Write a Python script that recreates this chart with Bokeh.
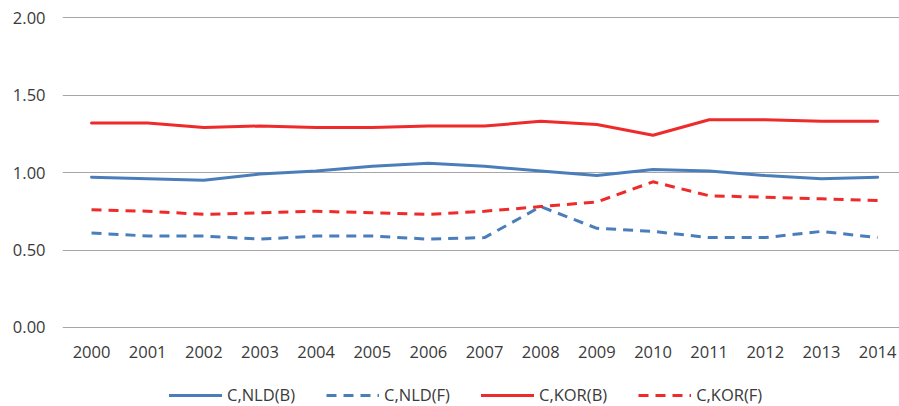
from bokeh.plotting import figure
from bokeh.models import Range1d, FixedTicker, Legend, LegendItem, ColumnDataSource
from bokeh.embed import file_html
from bokeh.resources import INLINE

years = [2000, 2001, 2002, 2003, 2004, 2005, 2006, 2007, 2008, 2009, 2010, 2011, 2012, 2013, 2014]
nld_b = [0.97, 0.96, 0.95, 0.99, 1.01, 1.04, 1.06, 1.04, 1.01, 0.98, 1.02, 1.01, 0.98, 0.96, 0.97]
nld_f = [0.61, 0.59, 0.59, 0.57, 0.59, 0.59, 0.57, 0.58, 0.78, 0.64, 0.62, 0.58, 0.58, 0.62, 0.58]
kor_b = [1.32, 1.32, 1.29, 1.30, 1.29, 1.29, 1.30, 1.30, 1.33, 1.31, 1.24, 1.34, 1.34, 1.33, 1.33]
kor_f = [0.76, 0.75, 0.73, 0.74, 0.75, 0.74, 0.73, 0.75, 0.78, 0.81, 0.94, 0.85, 0.84, 0.83, 0.82]
y_ticks = [0.0, 0.5, 1.0, 1.5, 2.0]
series_names = ["C,NLD(B)", "C,NLD(F)", "C,KOR(B)", "C,KOR(F)"]

BLUE = "#4A7EBB"
RED = "#EE2A2A"
FONT = "Open Sans"
TXT = "#3A3A3A"

p = figure(width=899, height=406, output_backend="svg", toolbar_location=None,
           x_range=Range1d(1999.483, 2014.39), y_range=Range1d(-0.5097, 2.0065),
           min_border_left=62, min_border_right=0, min_border_top=16, min_border_bottom=0)
p.outline_line_color = None
p.background_fill_color = "white"
p.border_fill_color = "white"

src = ColumnDataSource(dict(x=years, nb=nld_b, nf=nld_f, kb=kor_b, kf=kor_f))
r1 = p.line("x", "nb", source=src, line_color=BLUE, line_width=3, line_join="round", line_cap="round")
r2 = p.line("x", "nf", source=src, line_color=BLUE, line_width=3, line_dash="10 7", line_join="round")
r3 = p.line("x", "kb", source=src, line_color=RED, line_width=3, line_join="round", line_cap="round")
r4 = p.line("x", "kf", source=src, line_color=RED, line_width=3, line_dash="10 7", line_join="round")

p.xgrid.grid_line_color = None
p.ygrid.grid_line_color = "#A6A6A6"
p.ygrid.grid_line_width = 1
p.yaxis.ticker = FixedTicker(ticks=y_ticks)
p.ygrid.ticker = FixedTicker(ticks=y_ticks)
p.xaxis.ticker = FixedTicker(ticks=years)
p.yaxis.major_label_overrides = {t: f"{t:.2f}" for t in y_ticks}
p.xaxis.fixed_location = 0

for ax in (p.xaxis[0], p.yaxis[0]):
    ax.axis_line_color = None
    ax.major_tick_line_color = None
    ax.minor_tick_line_color = None
    ax.major_tick_in = 0
    ax.major_tick_out = 0
    ax.major_label_text_font = FONT
    ax.major_label_text_font_size = "16.5px"
    ax.major_label_text_color = TXT
p.xaxis.major_label_standoff = 19
p.yaxis.major_label_standoff = 17

legend = Legend(items=[LegendItem(label=n, renderers=[r]) for n, r in zip(series_names, [r1, r2, r3, r4])],
                orientation="horizontal", location=(107, 0),
                glyph_width=53, glyph_height=16, label_standoff=5, spacing=31,
                padding=0, margin=0, border_line_color=None, background_fill_alpha=0,
                label_text_font=FONT, label_text_font_size="16.5px", label_text_color=TXT)
p.add_layout(legend, "center")

open("out.html", "w").write(file_html(p, INLINE))
